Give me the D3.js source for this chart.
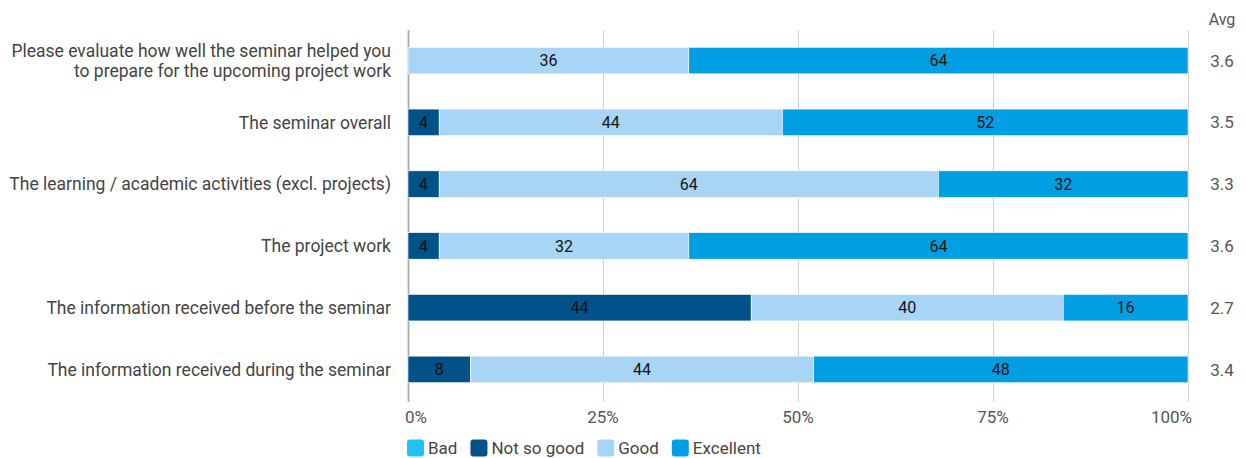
<!DOCTYPE html>
<html lang="en">
<head>
<meta charset="utf-8">
<script src="https://cdn.jsdelivr.net/npm/d3@7"></script>
<style>
  body { margin: 0; background: #fff; }
  text { font-family: Roboto, "Noto Sans", sans-serif; }
</style>
</head>
<body>
<script>
// data
var questions = [
  ["Please evaluate how well the seminar helped you", "to prepare for the upcoming project work"],
  ["The seminar overall"],
  ["The learning / academic activities (excl. projects)"],
  ["The project work"],
  ["The information received before the seminar"],
  ["The information received during the seminar"]
];
var categories = ["Bad", "Not so good", "Good", "Excellent"];
var bad       = [0, 0, 0, 0, 0, 0];
var notSoGood = [0, 4, 4, 4, 44, 8];
var good      = [36, 44, 64, 32, 40, 44];
var excellent = [64, 52, 32, 64, 16, 48];
var averages  = ["3.6", "3.5", "3.3", "3.6", "2.7", "3.4"];
var tickValues = [0, 25, 50, 75, 100];
var colors = ["#1fc3f3", "#005288", "#a8d5f5", "#009fe3"];

var w = 1247, h = 458;
var margin = { left: 408, right: 59, top: 30, bottom: 58 };

var svg = d3.select("body").append("svg")
  .attr("width", w).attr("height", h);

var x = d3.scaleLinear().domain([0, 100]).range([margin.left, w - margin.right]);
var y = d3.scaleBand().domain(d3.range(questions.length))
  .range([margin.top, h - margin.bottom]).paddingInner(0.57).paddingOuter(0.28);

// gridlines
svg.selectAll("line.grid")
  .data(tickValues)
  .enter().append("line")
  .attr("class", "grid")
  .attr("x1", function(d) { return x(d) + 0.5; })
  .attr("x2", function(d) { return x(d) + 0.5; })
  .attr("y1", margin.top)
  .attr("y2", h - margin.bottom + 2)
  .attr("stroke", function(d) { return d === 0 ? "#aaa" : "#d0d0d0"; })
  .attr("stroke-width", function(d) { return d === 0 ? 1.8 : 1; });

// stacked rows
var rows = questions.map(function(q, i) {
  return { q: q, vals: [bad[i], notSoGood[i], good[i], excellent[i]] };
});
var stack = d3.stack().keys([0, 1, 2, 3]).value(function(d, k) { return d.vals[k]; });
var series = stack(rows);

var g = svg.selectAll("g.series")
  .data(series)
  .enter().append("g")
  .attr("class", "series")
  .attr("fill", function(d) { return colors[d.key]; });

g.selectAll("rect")
  .data(function(d) { return d; })
  .enter().append("rect")
  .attr("x", function(d) { return x(d[0]); })
  .attr("y", function(d, i) { return y(i); })
  .attr("width", function(d) { return x(d[1]) - x(d[0]); })
  .attr("height", y.bandwidth())
  .attr("stroke", "#fff")
  .attr("stroke-width", 0.6);

g.selectAll("text")
  .data(function(d) { return d.filter(function(e) { return e[1] - e[0] > 0; }); })
  .enter().append("text")
  .attr("x", function(d) { return (x(d[0]) + x(d[1])) / 2; })
  .attr("y", function(d) { return y(rows.indexOf(d.data)) + y.bandwidth() / 2; })
  .attr("dy", "0.36em")
  .attr("text-anchor", "middle")
  .attr("font-size", "16px")
  .attr("fill", "#111")
  .text(function(d) { return d[1] - d[0]; });

// question labels
var lbl = svg.selectAll("text.q")
  .data(questions)
  .enter().append("text")
  .attr("class", "q")
  .attr("text-anchor", "end")
  .attr("font-size", "17.5px")
  .attr("fill", "#444")
  .attr("x", margin.left - 17)
  .attr("y", function(d, i) {
    return y(i) + y.bandwidth() / 2 - (d.length - 1) * 10;
  });
lbl.selectAll("tspan")
  .data(function(d) { return d; })
  .enter().append("tspan")
  .attr("x", margin.left - 17)
  .attr("dy", function(d, i) { return i === 0 ? "0.36em" : "20px"; })
  .text(function(d) { return d; });

// avg column
svg.append("text")
  .attr("x", 1222).attr("y", 25)
  .attr("text-anchor", "middle")
  .attr("font-size", "16px").attr("fill", "#555")
  .text("Avg");
svg.selectAll("text.avg")
  .data(averages)
  .enter().append("text")
  .attr("class", "avg")
  .attr("x", 1222)
  .attr("y", function(d, i) { return y(i) + y.bandwidth() / 2; })
  .attr("dy", "0.36em")
  .attr("text-anchor", "middle")
  .attr("font-size", "17px").attr("fill", "#555")
  .text(function(d) { return d; });

// x axis labels, end labels kept inside
svg.selectAll("text.tick")
  .data(tickValues)
  .enter().append("text")
  .attr("class", "tick")
  .attr("x", function(d, i) {
    if (i === 0) return x(d) - 3;
    if (i === tickValues.length - 1) return x(d) + 4;
    return x(d);
  })
  .attr("y", 423)
  .attr("text-anchor", function(d, i) {
    if (i === 0) return "start";
    if (i === tickValues.length - 1) return "end";
    return "middle";
  })
  .attr("font-size", "17px").attr("fill", "#555")
  .text(function(d) { return d + "%"; });

// legend
var lx = 407;
var leg = svg.append("g").attr("transform", "translate(0,448)");
categories.forEach(function(c, i) {
  var item = leg.append("g").attr("transform", "translate(" + lx + ",0)");
  item.append("rect")
    .attr("x", 0).attr("y", -8.5)
    .attr("width", 17).attr("height", 17)
    .attr("rx", 3)
    .attr("fill", colors[i]);
  var t = item.append("text")
    .attr("x", 21).attr("dy", "0.36em")
    .attr("font-size", "17px").attr("fill", "#444")
    .text(c);
  lx += 21 + t.node().getComputedTextLength() + 13;
});
</script>
</body>
</html>
